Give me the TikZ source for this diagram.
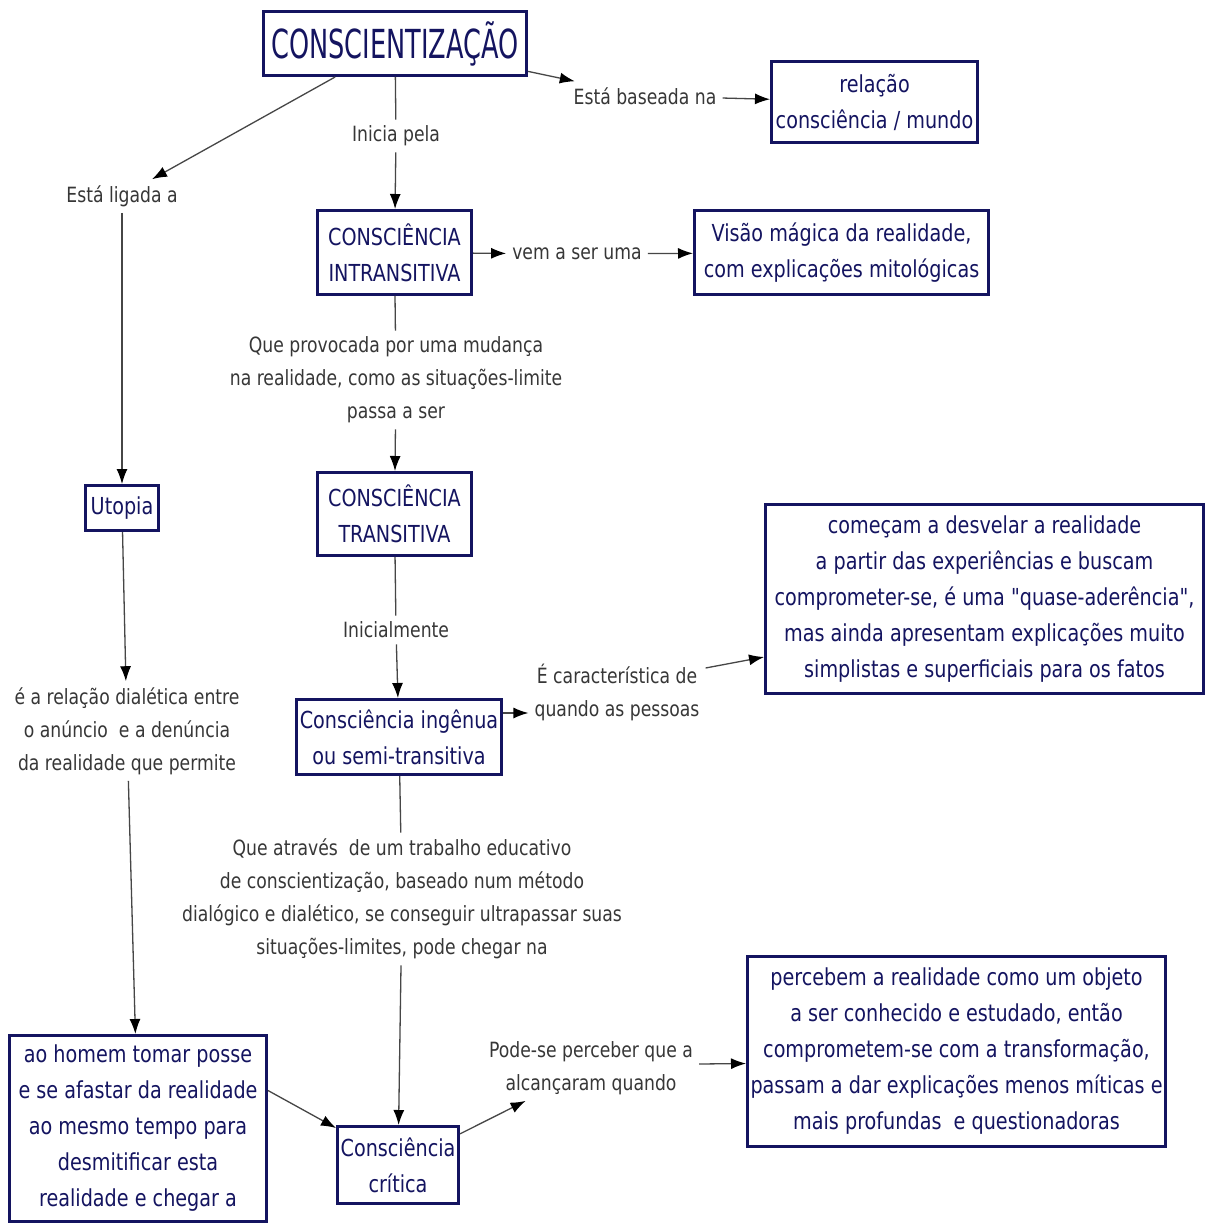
\documentclass[tikz,border=0pt]{standalone}
\usepackage{fontspec}
\setmainfont{DejaVu Sans}[FakeStretch=0.82, Ligatures=TeXOff]
\newfontfamily\cmtitlefont{DejaVu Sans}[FakeStretch=0.64]
\usetikzlibrary{arrows.meta}
\definecolor{cmnavy}{RGB}{20,20,96}
\definecolor{cmgray}{RGB}{55,55,55}
\definecolor{cmline}{RGB}{70,70,70}
\newcommand{\cmboxfont}{\fontsize{23.4}{36}\selectfont}
\newcommand{\cmlabelfont}{\fontsize{21}{33}\selectfont}
\tikzstyle{concept} = [rectangle, draw=cmnavy, line width=3pt, fill=white, text=cmnavy, align=center, inner sep=3pt, font=\cmboxfont]
\tikzstyle{linklabel} = [align=center, inner sep=6pt, text=cmgray, font=\cmlabelfont]
\tikzstyle{link} = [line width=1.3pt, color=cmline]
\tikzstyle{arrow} = [link, -{Latex[length=15pt,width=11pt,color=black]}]

\begin{document}
\begin{tikzpicture}[x=1pt, y=-1pt]
\fill[white] (0,0) rectangle (1206,1225);
\useasboundingbox (0,0) rectangle (1206,1225);

% concepts
\node (consc) [concept, minimum width=263pt, minimum height=64pt, font=\cmtitlefont\fontsize{40}{44}\selectfont] at (395,43.5) {CONSCIENTIZAÇÃO};
\node (relacao) [concept, minimum width=206pt, minimum height=81pt] at (874.5,102) {relação\\consciência / mundo};
\node (intrans) [concept, minimum width=154pt, minimum height=84pt] at (394.5,252.5) {CONSCIÊNCIA\\INTRANSITIVA};
\node (visao) [concept, minimum width=294pt, minimum height=84pt] at (841.5,252.5) {Visão mágica da realidade,\\com explicações mitológicas};
\node (utopia) [concept, minimum width=73pt, minimum height=45pt] at (122,508) {Utopia};
\node (trans) [concept, minimum width=154pt, minimum height=83pt] at (394.5,514) {CONSCIÊNCIA\\TRANSITIVA};
\node (comecam) [concept, minimum width=438pt, minimum height=189pt] at (984.5,599) {começam a desvelar a realidade\\a partir das experiências e buscam\\comprometer-se, é uma \symbol{"22}quase-aderência\symbol{"22},\\mas ainda apresentam explicações muito\\simplistas e superficiais para os fatos};
\node (ingenua) [concept, minimum width=205pt, minimum height=75pt] at (399,737) {Consciência ingênua\\ou semi-transitiva};
\node (percebem) [concept, minimum width=418pt, minimum height=190pt] at (956.5,1051.5) {percebem a realidade como um objeto\\a ser conhecido e estudado, então\\comprometem-se com a transformação,\\passam a dar explicações menos míticas e\\mais profundas\ \ e questionadoras};
\node (aohomem) [concept, minimum width=257pt, minimum height=186pt] at (138,1128.5) {ao homem tomar posse\\e se afastar da realidade\\ao mesmo tempo para\\desmitificar esta\\realidade e chegar a};
\node (critica) [concept, minimum width=121pt, minimum height=77pt] at (398,1165) {Consciência\\crítica};

% linking phrases
\node (baseada) [linklabel] at (645,96) {Está baseada na};
\node (inicia) [linklabel] at (396,136) {Inicia pela};
\node (ligada) [linklabel] at (122,196) {Está ligada a};
\node (vem) [linklabel] at (577,254) {vem a ser uma};
\node (provoca) [linklabel] at (396,380) {Que provocada por uma mudança\\na realidade, como as situações-limite\\passa a ser};
\node (inicialmente) [linklabel] at (396,630) {Inicialmente};
\node (caract) [linklabel] at (617,692) {É característica de\\quando as pessoas};
\node (dialetica) [linklabel] at (127,731) {é a relação dialética entre\\o anúncio\ \ e a denúncia\\da realidade que permite};
\node (atraves) [linklabel] at (402,899) {Que através\ \ de um trabalho educativo\\de conscientização, baseado num método\\dialógico e dialético, se conseguir ultrapassar suas\\situações-limites, pode chegar na};
\node (pode) [linklabel] at (591,1068) {Pode-se perceber que a\\alcançaram quando};

% connectors
\draw[arrow] (consc) -- (baseada);
\draw[arrow] (baseada) -- (relacao);
\draw[arrow] (consc) -- (ligada);
\draw[link] (consc) -- (inicia);
\draw[arrow] (inicia) -- (intrans);
\draw[arrow] (ligada) -- (utopia);
\draw[arrow] (intrans) -- (vem);
\draw[arrow] (vem) -- (visao);
\draw[link] (intrans) -- (provoca);
\draw[arrow] (provoca) -- (trans);
\draw[arrow] (utopia) -- (dialetica);
\draw[link] (trans) -- (inicialmente);
\draw[arrow] (inicialmente) -- (ingenua);
\draw[arrow] ([yshift=24pt]ingenua.east) -- ([yshift=-21pt]caract.west);
\draw[arrow] ([yshift=24pt]caract.east) -- ([yshift=-58pt]comecam.west);
\draw[link] (ingenua) -- (atraves);
\draw[arrow] (atraves) -- (critica);
\draw[arrow] (dialetica) -- (aohomem);
\draw[arrow] ([yshift=38pt]aohomem.east) -- ([yshift=37pt]critica.west);
\draw[arrow] (critica) -- (pode);
\draw[arrow] ([yshift=4pt]pode.east) -- ([yshift=-12pt]percebem.west);
\end{tikzpicture}
\end{document}
